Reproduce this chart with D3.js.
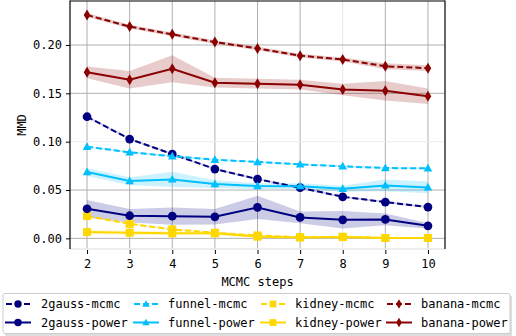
<!DOCTYPE html>
<html><head><meta charset="utf-8">
<script src="https://cdn.jsdelivr.net/npm/d3@7"></script>
<style>
html,body{margin:0;padding:0;background:#fff;}
svg{display:block;}
text{font-family:"DejaVu Sans Mono",monospace;}
</style></head>
<body>
<div id="chart"></div>
<script>
const steps = [2,3,4,5,6,7,8,9,10];
const yTicks = [0.00,0.05,0.10,0.15,0.20];
const yTickLabels = ["0.00","0.05","0.10","0.15","0.20"];

const gaussMcmc   = [0.1258,0.1027,0.0872,0.0717,0.0613,0.0524,0.0430,0.0375,0.0324];
const gaussMcmcErr= [0.001,0.001,0.001,0.001,0.001,0.001,0.001,0.001,0.001];
const gaussPower  = [0.0306,0.0234,0.0230,0.0223,0.0320,0.0217,0.0192,0.0196,0.0130];
const gaussPowerErr=[0.009,0.007,0.009,0.008,0.012,0.006,0.009,0.006,0.003];

const funnelMcmc   = [0.0948,0.0890,0.0850,0.0813,0.0790,0.0765,0.0745,0.0727,0.0724];
const funnelMcmcErr= [0.001,0.001,0.001,0.001,0.001,0.001,0.001,0.001,0.001];
const funnelPower  = [0.0686,0.0593,0.0610,0.0562,0.0541,0.0540,0.0513,0.0548,0.0527];
const funnelPowerErr=[0.004,0.004,0.008,0.004,0.003,0.003,0.003,0.006,0.006];

const kidneyMcmc   = [0.0230,0.0150,0.0093,0.0058,0.0030,0.0012,0.0017,0.0004,0.0004];
const kidneyMcmcErr= [0.001,0.001,0.001,0.001,0.001,0.001,0.001,0.001,0.001];
const kidneyPower  = [0.0065,0.0058,0.0052,0.0052,0.0017,0.0010,0.0013,0.0004,0.0004];
const kidneyPowerErr=[0.002,0.002,0.002,0.002,0.001,0.001,0.001,0.001,0.001];

const bananaMcmc   = [0.2310,0.2190,0.2110,0.2030,0.1965,0.1890,0.1850,0.1780,0.1760];
const bananaMcmcErr= [0.002,0.002,0.002,0.002,0.002,0.002,0.002,0.003,0.003];
const bananaPower  = [0.1717,0.1640,0.1755,0.1610,0.1600,0.1590,0.1540,0.1527,0.1470];
const bananaPowerErr=[0.006,0.009,0.014,0.005,0.005,0.005,0.006,0.010,0.008];

const series = [
  {name:"2gauss-mcmc",  vals:gaussMcmc,  err:gaussMcmcErr,  color:"#000080", dash:true,  marker:"circle"},
  {name:"funnel-mcmc",  vals:funnelMcmc, err:funnelMcmcErr, color:"#00bfff", dash:true,  marker:"triangle"},
  {name:"kidney-mcmc",  vals:kidneyMcmc, err:kidneyMcmcErr, color:"#ffd700", dash:true,  marker:"square"},
  {name:"banana-mcmc",  vals:bananaMcmc, err:bananaMcmcErr, color:"#8b0000", dash:true,  marker:"diamond"},
  {name:"2gauss-power", vals:gaussPower, err:gaussPowerErr, color:"#000080", dash:false, marker:"circle"},
  {name:"funnel-power", vals:funnelPower,err:funnelPowerErr,color:"#00bfff", dash:false, marker:"triangle"},
  {name:"kidney-power", vals:kidneyPower,err:kidneyPowerErr,color:"#ffd700", dash:false, marker:"square"},
  {name:"banana-power", vals:bananaPower,err:bananaPowerErr,color:"#8b0000", dash:false, marker:"diamond"}
];

const W=516,H=336;
const L=70,R=445,T=1,B=249;
const svg=d3.select("#chart").append("svg").attr("width",W).attr("height",H);

const x=d3.scaleLinear().domain([1.6,10.4]).range([L,R]);
const y=d3.scaleLinear().domain([-0.011,0.2455]).range([B,T]);

// grid
const gridG=svg.append("g");
steps.forEach(s=>{
  gridG.append("line").attr("x1",x(s)).attr("x2",x(s)).attr("y1",T).attr("y2",B)
    .attr("stroke",s===8?"#e6e6e6":"#b0b0b0").attr("stroke-width",1);
});
yTicks.forEach(v=>{
  gridG.append("line").attr("x1",L).attr("x2",R).attr("y1",y(v)).attr("y2",y(v))
    .attr("stroke",v===0.10?"#ececec":"#b0b0b0").attr("stroke-width",1);
});
// faint bottom line
svg.append("line").attr("x1",L).attr("x2",R).attr("y1",B).attr("y2",B).attr("stroke","#e8e8e8").attr("stroke-width",1.5);

// bands
const area=d3.area().x((d,i)=>x(steps[i])).y0(d=>y(d[0]-d[1])).y1(d=>y(d[0]+d[1]));
const line=d3.line().x((d,i)=>x(steps[i])).y(d=>y(d));
series.forEach(s=>{
  svg.append("path").datum(s.vals.map((v,i)=>[v,s.err[i]])).attr("d",area)
    .attr("fill",s.color).attr("opacity",0.2).attr("stroke","none");
});

function markerPath(type){
  switch(type){
    case "circle": return d3.symbol().type(d3.symbolCircle).size(60)();
    case "triangle": return "M0,-4.5L4.3,3.2L-4.3,3.2Z";
    case "square": return "M-4,-4L4,-4L4,4L-4,4Z";
    case "diamond": return "M0,-5.5L3.3,0L0,5.5L-3.3,0Z";
  }
}

series.forEach(s=>{
  const g=svg.append("g");
  g.append("path").datum(s.vals).attr("d",line).attr("fill","none")
    .attr("stroke",s.color).attr("stroke-width",s.dash?2:2)
    .attr("stroke-dasharray",s.dash?"6,3":null);
  g.selectAll("path.m").data(s.vals).enter().append("path").attr("class","m")
    .attr("d",markerPath(s.marker))
    .attr("transform",(d,i)=>`translate(${x(steps[i])},${y(d)})`)
    .attr("fill",s.color);
});

// spines
svg.append("line").attr("x1",L).attr("x2",L).attr("y1",T-0.5).attr("y2",B).attr("stroke","#000").attr("stroke-width",1.2);
svg.append("line").attr("x1",R).attr("x2",R).attr("y1",T-0.5).attr("y2",B).attr("stroke","#000").attr("stroke-width",1.2);
svg.append("line").attr("x1",L).attr("x2",R).attr("y1",T).attr("y2",T).attr("stroke","#000").attr("stroke-width",1.2);

// axes
const xAxis=d3.axisBottom(x).tickValues(steps).tickSize(4).tickPadding(5).tickFormat(d3.format("d"));
const xg=svg.append("g").attr("transform",`translate(0,${B+1})`).call(xAxis);
xg.select(".domain").remove();
xg.selectAll("text").attr("font-size",12).attr("fill","#000").attr("font-family","DejaVu Sans Mono");
xg.selectAll("line").attr("stroke","#000");

const yAxis=d3.axisLeft(y).tickValues(yTicks).tickSize(4).tickPadding(4).tickFormat((d,i)=>yTickLabels[i]);
const yg=svg.append("g").attr("transform",`translate(${L},0)`).call(yAxis);
yg.select(".domain").remove();
yg.selectAll("text").attr("font-size",12).attr("fill","#000").attr("font-family","DejaVu Sans Mono");
yg.selectAll("line").attr("stroke","#000");

svg.append("text").attr("x",(L+R)/2).attr("y",286).attr("text-anchor","middle")
  .attr("font-size",12).text("MCMC steps");
svg.append("text").attr("transform",`translate(26,${(T+B)/2}) rotate(-90)`).attr("text-anchor","middle")
  .attr("font-size",12).text("MMD");

// legend
const lg=svg.append("g");
lg.append("rect").attr("x",5).attr("y",295.5).attr("width",507).attr("height",41).attr("rx",2)
  .attr("fill","#c8c8c8").attr("opacity",0.6);
lg.append("rect").attr("x",3).attr("y",293.5).attr("width",507).attr("height",40).attr("rx",2)
  .attr("fill","#fff").attr("stroke","#cccccc").attr("stroke-width",1);
const colHandle=[5,133,260,386];
const colText=[41,168,295,421];
const rowY=[304,322.5];
series.forEach((s,i)=>{
  const c=i%4, r=Math.floor(i/4);
  const hx=colHandle[c], hy=rowY[r];
  lg.append("line").attr("x1",hx).attr("x2",hx+26).attr("y1",hy).attr("y2",hy)
    .attr("stroke",s.color).attr("stroke-width",2).attr("stroke-dasharray",s.dash?"6,3":null)
    .attr("stroke-dashoffset",s.dash?-1:0);
  lg.append("path").attr("d",markerPath(s.marker)).attr("transform",`translate(${hx+13},${hy}) scale(0.85)`).attr("fill",s.color);
  lg.append("text").attr("x",colText[c]).attr("y",hy+4.3).attr("font-size",12).text(s.name);
});
</script>
</body></html>
